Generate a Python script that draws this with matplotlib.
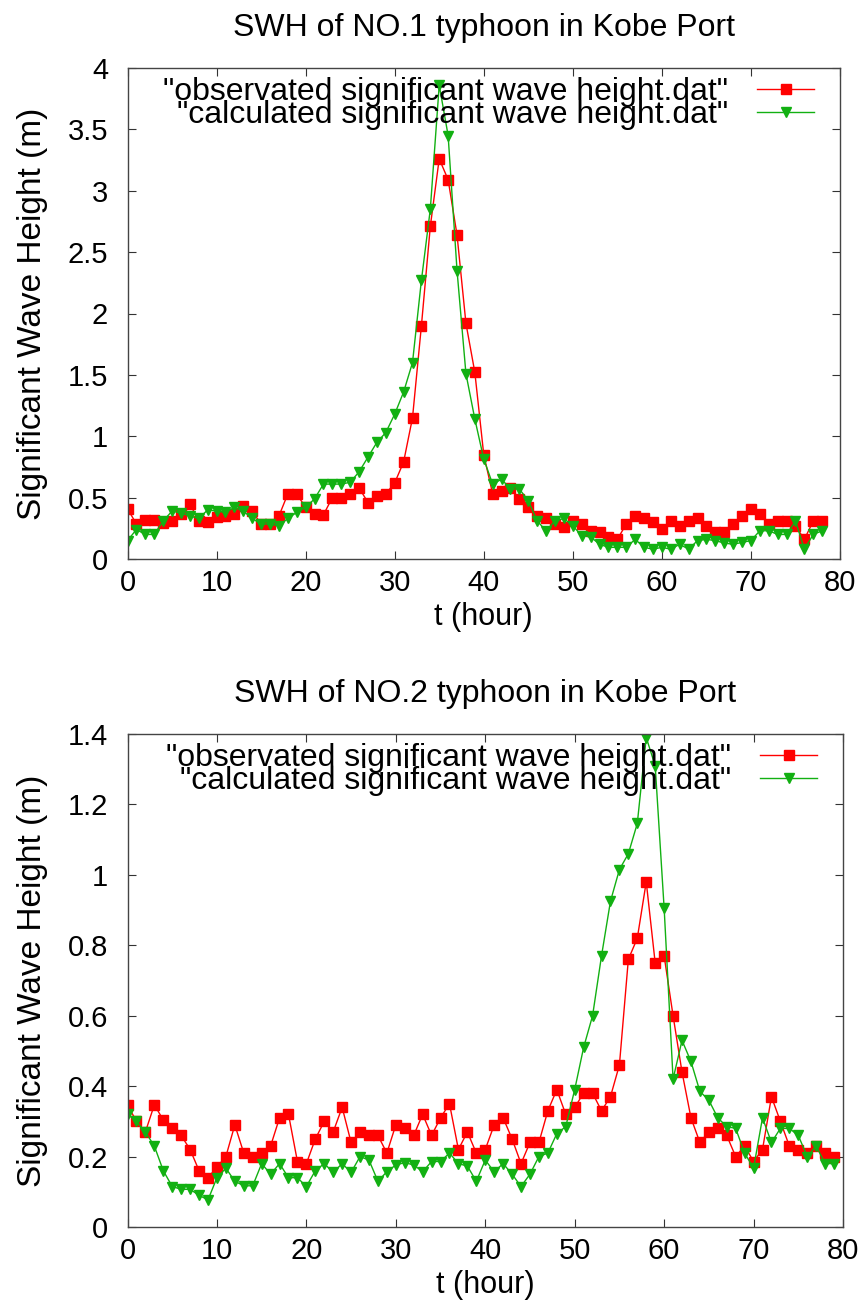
import numpy as np
import matplotlib
matplotlib.use("Agg")
import matplotlib.pyplot as plt
from matplotlib.ticker import FuncFormatter, MultipleLocator

plt.rcParams['font.family'] = ['Liberation Sans', 'DejaVu Sans']

# typhoon 1: hourly values, t = 0..78
hours1 = list(range(79))
obs1 = [0.41, 0.285, 0.32, 0.32, 0.29, 0.31, 0.37, 0.45, 0.31, 0.30,
        0.34, 0.35, 0.37, 0.43, 0.39, 0.285, 0.285, 0.35, 0.53, 0.53,
        0.42, 0.37, 0.36, 0.50, 0.50, 0.53, 0.58, 0.46, 0.51, 0.53,
        0.62, 0.79, 1.15, 1.90, 2.71, 3.26, 3.09, 2.64, 1.92, 1.52,
        0.85, 0.53, 0.55, 0.58, 0.49, 0.42, 0.35, 0.33, 0.285, 0.26,
        0.31, 0.285, 0.23, 0.22, 0.18, 0.16, 0.285, 0.35, 0.33, 0.30,
        0.245, 0.31, 0.27, 0.31, 0.33, 0.27, 0.22, 0.22, 0.285, 0.35,
        0.41, 0.37, 0.285, 0.31, 0.31, 0.27, 0.16, 0.31, 0.31]
calc1 = [0.15, 0.24, 0.20, 0.20, 0.31, 0.39, 0.375, 0.35, 0.33, 0.40,
         0.39, 0.38, 0.42, 0.39, 0.33, 0.285, 0.285, 0.27, 0.33, 0.38,
         0.42, 0.49, 0.61, 0.61, 0.61, 0.625, 0.71, 0.83, 0.95, 1.03,
         1.18, 1.36, 1.60, 2.27, 2.85, 3.86, 3.45, 2.35, 1.51, 1.14,
         0.815, 0.61, 0.65, 0.57, 0.57, 0.475, 0.31, 0.23, 0.31, 0.33,
         0.27, 0.19, 0.18, 0.12, 0.095, 0.095, 0.095, 0.16, 0.095, 0.08,
         0.095, 0.08, 0.12, 0.08, 0.15, 0.16, 0.15, 0.13, 0.12, 0.135,
         0.15, 0.23, 0.23, 0.20, 0.20, 0.31, 0.08, 0.20, 0.23]

# typhoon 2: hourly values, t = 0..79
hours2 = list(range(80))
obs2 = [0.347, 0.30, 0.27, 0.347, 0.304, 0.28, 0.26, 0.22, 0.16, 0.14,
        0.17, 0.20, 0.29, 0.21, 0.20, 0.21, 0.23, 0.31, 0.32, 0.186,
        0.18, 0.25, 0.30, 0.27, 0.34, 0.24, 0.27, 0.26, 0.26, 0.21,
        0.29, 0.28, 0.26, 0.32, 0.26, 0.31, 0.35, 0.22, 0.27, 0.21,
        0.22, 0.29, 0.31, 0.25, 0.18, 0.24, 0.24, 0.33, 0.39, 0.32,
        0.34, 0.38, 0.38, 0.33, 0.37, 0.46, 0.76, 0.82, 0.98, 0.75,
        0.77, 0.60, 0.44, 0.31, 0.24, 0.27, 0.28, 0.26, 0.20, 0.23,
        0.186, 0.22, 0.37, 0.30, 0.23, 0.22, 0.21, 0.23, 0.21, 0.20]
calc2 = [0.32, 0.30, 0.27, 0.23, 0.16, 0.115, 0.107, 0.107, 0.09, 0.077,
         0.14, 0.167, 0.13, 0.117, 0.117, 0.18, 0.15, 0.18, 0.14, 0.14,
         0.115, 0.16, 0.18, 0.155, 0.18, 0.155, 0.20, 0.19, 0.13, 0.157,
         0.176, 0.183, 0.176, 0.157, 0.186, 0.186, 0.21, 0.18, 0.173, 0.13,
         0.19, 0.157, 0.18, 0.15, 0.115, 0.15, 0.20, 0.21, 0.265, 0.285,
         0.39, 0.51, 0.60, 0.77, 0.925, 1.015, 1.06, 1.146, 1.39, 1.31,
         0.906, 0.42, 0.53, 0.47, 0.385, 0.36, 0.31, 0.285, 0.28, 0.21,
         0.167, 0.31, 0.24, 0.28, 0.28, 0.26, 0.20, 0.23, 0.18, 0.18]

obs_label = '"observated significant wave height.dat"'
calc_label = '"calculated significant wave height.dat"'
red = '#ff0000'
green = '#12b012'

W, H = 864, 1305
fig = plt.figure(figsize=(W / 100, H / 100), dpi=100)


def make_axes(left, top, right, bottom):
    return fig.add_axes([left / W, 1 - bottom / H, (right - left) / W, (bottom - top) / H])


def fmt(v, pos):
    return '%g' % round(v, 2)


def draw(ax, hours, obs, calc, ymax, ystep, title):
    ax.plot(hours, obs, color=red, lw=1.0, marker='s', ms=6.5, mec=red, label=obs_label)
    ax.plot(hours, calc, color=green, lw=1.0, marker='v', ms=7.5, mec=green, label=calc_label)
    ax.set_xlim(0, 80)
    ax.set_ylim(0, ymax)
    ax.xaxis.set_major_locator(MultipleLocator(10))
    ax.yaxis.set_major_locator(MultipleLocator(ystep))
    ax.yaxis.set_major_formatter(FuncFormatter(fmt))
    ax.tick_params(direction='in', top=True, right=True, length=6, width=0.8,
                   labelsize=21, color='#333333')
    ax.tick_params(axis='x', pad=7)
    ax.tick_params(axis='y', pad=14)
    for s in ax.spines.values():
        s.set_linewidth(1.0)
        s.set_color('#444444')
    ax.set_xlabel('t (hour)', fontsize=22, labelpad=4)
    ax.set_ylabel('Significant Wave Height (m)', fontsize=24, labelpad=14)
    ax.set_title(title, fontsize=23, pad=23)
    ax.legend(loc='upper right', frameon=False, markerfirst=False, fontsize=23,
              handlelength=1.8, handletextpad=0.9, labelspacing=-0.2,
              borderaxespad=0.0, bbox_to_anchor=(0.982, 1.008))


ax1 = make_axes(127.5, 68, 840, 559)
draw(ax1, hours1, obs1, calc1, 4, 0.5, 'SWH of NO.1 typhoon in Kobe Port')

ax2 = make_axes(127.5, 734, 843, 1227)
draw(ax2, hours2, obs2, calc2, 1.4, 0.2, 'SWH of NO.2 typhoon in Kobe Port')

fig.savefig('out.png', dpi=100)
